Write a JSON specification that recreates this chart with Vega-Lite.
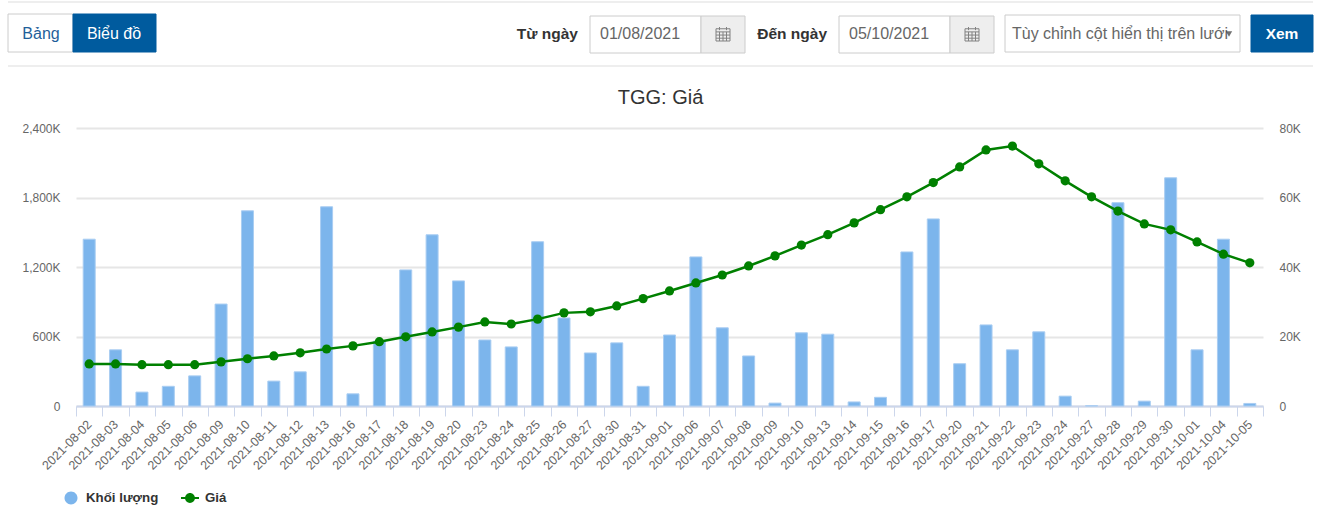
{
"$schema":"https://vega.github.io/schema/vega-lite/v6.json",
"padding":0,
"autosize":{"type":"pad"},
"background":"white",
"spacing":0,
"config":{"font":"Liberation Sans","view":{"stroke":null},"concat":{"spacing":0}},
"datasets":{
"boxes":[
{"role":"tabOff","x":0,"x2":2,"y":1,"y2":5},
{"role":"tabOn","x":2,"x2":4,"y":1,"y2":5},
{"role":"input","x":6,"x2":8,"y":3,"y2":6},
{"role":"addon","x":8,"x2":10,"y":3,"y2":6},
{"role":"input","x":12,"x2":14,"y":3,"y2":6},
{"role":"addon","x":14,"x2":16,"y":3,"y2":6},
{"role":"input","x":17,"x2":20,"y":2,"y2":5},
{"role":"tabOn","x":21,"x2":23,"y":2,"y2":5}
],
"labels":[
{"kind":"center","text":"Bảng","x":1,"y":4,"tone":"link"},
{"kind":"center","text":"Biểu đồ","x":3,"y":4,"tone":"onDark"},
{"kind":"right","text":"Từ ngày","x":5,"y":4,"tone":"strong"},
{"kind":"right","text":"Đến ngày","x":11,"y":4,"tone":"strong"},
{"kind":"left","text":"01/08/2021","x":7,"y":4,"tone":"muted"},
{"kind":"left","text":"05/10/2021","x":13,"y":4,"tone":"muted"},
{"kind":"left","text":"Tùy chỉnh cột hiển thị trên lưới","x":18,"y":4,"tone":"muted"},
{"kind":"button","text":"Xem","x":22,"y":4,"tone":"onDark"}
],
"icons":[{"x":9,"y":4},{"x":15,"y":4}],
"carets":[{"x":19,"y":4}],
"dividers":[{"x":0,"x2":23,"y":0},{"x":0,"x2":23,"y":7}],
"volumeSeries":[{"volumeName":"Khối lượng"}],
"priceSeries":[{"priceName":"Giá"}],
"prices":[
{"date":"2021-08-02","volume":1440000,"price":12100},
{"date":"2021-08-03","volume":485000,"price":12100},
{"date":"2021-08-04","volume":120000,"price":11900},
{"date":"2021-08-05","volume":170000,"price":11900},
{"date":"2021-08-06","volume":260000,"price":11900},
{"date":"2021-08-09","volume":880000,"price":12700},
{"date":"2021-08-10","volume":1685000,"price":13600},
{"date":"2021-08-11","volume":215000,"price":14400},
{"date":"2021-08-12","volume":295000,"price":15300},
{"date":"2021-08-13","volume":1720000,"price":16400},
{"date":"2021-08-16","volume":105000,"price":17300},
{"date":"2021-08-17","volume":560000,"price":18500},
{"date":"2021-08-18","volume":1175000,"price":19900},
{"date":"2021-08-19","volume":1478000,"price":21300},
{"date":"2021-08-20","volume":1080000,"price":22700},
{"date":"2021-08-23","volume":570000,"price":24200},
{"date":"2021-08-24","volume":510000,"price":23600},
{"date":"2021-08-25","volume":1418000,"price":25000},
{"date":"2021-08-26","volume":760000,"price":26800},
{"date":"2021-08-27","volume":458000,"price":27100},
{"date":"2021-08-30","volume":545000,"price":28800},
{"date":"2021-08-31","volume":170000,"price":30900},
{"date":"2021-09-01","volume":613000,"price":33100},
{"date":"2021-09-06","volume":1287000,"price":35400},
{"date":"2021-09-07","volume":675000,"price":37700},
{"date":"2021-09-08","volume":432000,"price":40300},
{"date":"2021-09-09","volume":25000,"price":43200},
{"date":"2021-09-10","volume":632000,"price":46300},
{"date":"2021-09-13","volume":620000,"price":49300},
{"date":"2021-09-14","volume":35000,"price":52700},
{"date":"2021-09-15","volume":75000,"price":56500},
{"date":"2021-09-16","volume":1330000,"price":60200},
{"date":"2021-09-17","volume":1615000,"price":64300},
{"date":"2021-09-20","volume":365000,"price":68800},
{"date":"2021-09-21","volume":700000,"price":73700},
{"date":"2021-09-22","volume":485000,"price":74800},
{"date":"2021-09-23","volume":640000,"price":69700},
{"date":"2021-09-24","volume":85000,"price":64800},
{"date":"2021-09-27","volume":2000,"price":60200},
{"date":"2021-09-28","volume":1755000,"price":56100},
{"date":"2021-09-29","volume":42000,"price":52400},
{"date":"2021-09-30","volume":1970000,"price":50700},
{"date":"2021-10-01","volume":485000,"price":47200},
{"date":"2021-10-04","volume":1440000,"price":43700},
{"date":"2021-10-05","volume":22000,"price":41200}
]
},
"vconcat":[
{
"width":1187,"height":88,
"encoding":{
"x":{"field":"x","type":"quantitative","axis":null,"scale":{"domain":[0,1,2,3,4,5,6,7,8,9,10,11,12,13,14,15,16,17,18,19,20,21,22,23],"range":[-68,-35,-3,38,80,502,514,524,625,647,669,751,763,773,874,896,918,929,936,1153,1164,1175,1206,1237]}},
"y":{"field":"y","type":"quantitative","axis":null,"scale":{"domain":[0,1,2,3,4,5,6,7],"range":[2,14,15,16,34,52,53,66]}}
},
"layer":[
{"data":{"name":"dividers"},"mark":{"type":"rule","color":"#dddddd","strokeWidth":1},"encoding":{"x2":{"field":"x2"}}},
{"data":{"name":"boxes"},"mark":{"type":"rect","strokeWidth":1},"encoding":{
"x2":{"field":"x2"},"y2":{"field":"y2"},
"fill":{"field":"role","type":"nominal","legend":null,"scale":{"domain":["tabOff","tabOn","input","addon"],"range":["#ffffff","#005b9e","#ffffff","#eeeeee"]}},
"stroke":{"field":"role","type":"nominal","legend":null,"scale":{"domain":["tabOff","tabOn","input","addon"],"range":["#cccccc","#005b9e","#cccccc","#cccccc"]}}
}},
{"data":{"name":"labels"},"transform":[{"filter":"datum.kind==='center'"}],"mark":{"type":"text","align":"center","baseline":"middle","fontSize":16},"encoding":{"text":{"field":"text"},"color":{"field":"tone","type":"nominal","legend":null,"scale":{"domain":["link","onDark","strong","muted"],"range":["#1f5f9a","#ffffff","#333333","#666666"]}}}},
{"data":{"name":"labels"},"transform":[{"filter":"datum.kind==='left'"}],"mark":{"type":"text","align":"left","baseline":"middle","fontSize":16},"encoding":{"text":{"field":"text"},"color":{"field":"tone","type":"nominal","legend":null,"scale":{"domain":["link","onDark","strong","muted"],"range":["#1f5f9a","#ffffff","#333333","#666666"]}}}},
{"data":{"name":"labels"},"transform":[{"filter":"datum.kind==='right'"}],"mark":{"type":"text","align":"right","baseline":"middle","fontSize":15.5,"fontWeight":"bold"},"encoding":{"text":{"field":"text"},"color":{"field":"tone","type":"nominal","legend":null,"scale":{"domain":["link","onDark","strong","muted"],"range":["#1f5f9a","#ffffff","#333333","#666666"]}}}},
{"data":{"name":"labels"},"transform":[{"filter":"datum.kind==='button'"}],"mark":{"type":"text","align":"center","baseline":"middle","fontSize":15.5,"fontWeight":"bold"},"encoding":{"text":{"field":"text"},"color":{"field":"tone","type":"nominal","legend":null,"scale":{"domain":["link","onDark","strong","muted"],"range":["#1f5f9a","#ffffff","#333333","#666666"]}}}},
{"data":{"name":"icons"},"mark":{"type":"point","filled":false,"stroke":"#555555","strokeWidth":1,"size":196,"shape":"M-1,-0.75H1V1H-1ZM-1,-0.3H1M-1,0.15H1M-1,0.6H1M-0.5,-1V-0.55M0.5,-1V-0.55M-0.5,-0.3V1M0,-0.3V1M0.5,-0.3V1"}},
{"data":{"name":"carets"},"mark":{"type":"point","filled":true,"color":"#333333","size":40,"shape":"triangle-down"}}
]
},
{
"width":1187,"height":278,
"title":{"text":"TGG: Giá","fontSize":20,"fontWeight":"normal","color":"#333333","anchor":"middle","dx":-9,"offset":14},
"data":{"name":"prices"},
"encoding":{"x":{"field":"date","type":"nominal","sort":null,"scale":{"paddingInner":0,"paddingOuter":0},"axis":{"title":null,"labelAngle":-45,"labelAlign":"right","labelBaseline":"middle","labelFontSize":12.5,"labelColor":"#666666","labelPadding":6,"labelOverlap":false,"tickBand":"extent","tickColor":"#ccd6eb","tickSize":10,"domainColor":"#ccd6eb","domainWidth":2,"grid":false}}},
"layer":[
{"mark":{"type":"bar","size":12,"fill":"#7cb5ec","stroke":"#a9cdf2","strokeWidth":1},
"encoding":{"y":{"field":"volume","type":"quantitative","scale":{"domain":[0,2400000]},"axis":{"title":null,"values":[0,600000,1200000,1800000,2400000],"labelExpr":"datum.value===0?'0':format(datum.value/1000,',')+'K'","labelFontSize":12,"labelColor":"#666666","labelPadding":16,"ticks":false,"domain":false,"grid":true,"gridColor":"#e6e6e6","gridWidth":2,"minExtent":76}}}},
{"layer":[
{"mark":{"type":"line","color":"#008000","strokeWidth":2.5}},
{"mark":{"type":"point","filled":true,"color":"#008000","size":85,"opacity":1}}
],"encoding":{"y":{"field":"price","type":"quantitative","scale":{"domain":[0,80000]},"axis":{"title":null,"orient":"right","values":[0,20000,40000,60000,80000],"labelExpr":"datum.value===0?'0':format(datum.value/1000,',')+'K'","labelFontSize":12,"labelColor":"#666666","labelPadding":16,"ticks":false,"domain":false,"grid":false}}}},
{"data":{"name":"volumeSeries"},"mark":{"type":"point","filled":true,"size":0,"color":"#7cb5ec"},
"encoding":{"x":{"value":0},"y":{"value":0},
"shape":{"field":"volumeName","type":"nominal","scale":{"range":["M-0.72,0A0.72,0.72,0,1,1,0.72,0A0.72,0.72,0,1,1,-0.72,0Z"]},
"legend":{"title":null,"orient":"none","legendX":-14,"legendY":361,"symbolSize":324,"symbolStrokeWidth":0,"symbolOpacity":1,"symbolFillColor":"#7cb5ec","labelFontSize":13.3,"labelFontWeight":"bold","labelColor":"#333333","labelOffset":6}}
}},
{"data":{"name":"priceSeries"},"mark":{"type":"point","filled":true,"size":0,"color":"#008000"},
"encoding":{"x":{"value":0},"y":{"value":0},
"shape":{"field":"priceName","type":"nominal","scale":{"range":["M-1,-0.1H1V0.1H-1ZM-0.55,0A0.55,0.55,0,1,1,0.55,0A0.55,0.55,0,1,1,-0.55,0Z"]},
"legend":{"title":null,"orient":"none","legendX":105,"legendY":361,"symbolSize":324,"symbolStrokeWidth":0,"symbolOpacity":1,"symbolFillColor":"#008000","labelFontSize":13.3,"labelFontWeight":"bold","labelColor":"#333333","labelOffset":6}}
}}
],
"resolve":{"scale":{"y":"independent","shape":"independent"},"axis":{"y":"independent"},"legend":{"shape":"independent"}}
}
]
}
